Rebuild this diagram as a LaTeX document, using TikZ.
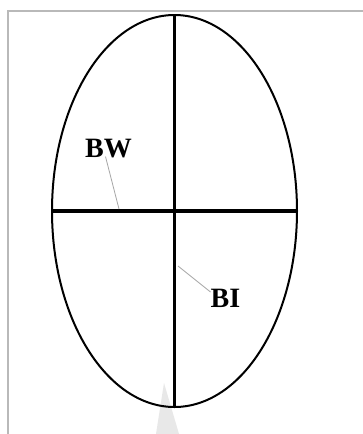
\documentclass[tikz,border=0pt]{standalone}
\usepackage{fontspec}
\setmainfont{Liberation Serif}
\usetikzlibrary{shapes.geometric}
\begin{document}
\begin{tikzpicture}[x=1pt,y=-1pt,font=\fontsize{28}{32}\selectfont\bfseries,
  egg/.style={draw,ellipse,line width=2pt,minimum width=245pt,minimum height=392pt,inner sep=0pt},
  axisline/.style={line width=3.6pt},
  leader/.style={draw=gray!70,line width=0.8pt},
  lbl/.style={inner sep=1pt}]
  \useasboundingbox (0,0) rectangle (363,434);
  \fill[white] (0,0) rectangle (363,434);
  % frame and faint background
  \draw[gray!55,line width=1.6pt] (8,434) -- (8,11) -- (363,11);
  \fill[gray!18] (164,383) -- (156,434) -- (179,434) -- cycle;
  % outline and axes
  \node[egg] (egg) at (174.5,211){};
  \draw[axisline] (egg.west) -- (egg.east);
  \draw[axisline] (egg.north) -- (egg.south);
  % labels
  \node[lbl] (bw) at (108.5,149){BW};
  \node[lbl] (bi) at (225.5,298){BI};
  \coordinate (bwend) at (119,209);
  \coordinate (biend) at (178,266);
  \draw[leader] (bw.south) ++(-3,-3) -- (bwend);
  \draw[leader] (bi.west) ++(1,-6) -- (biend);
\end{tikzpicture}
\end{document}
